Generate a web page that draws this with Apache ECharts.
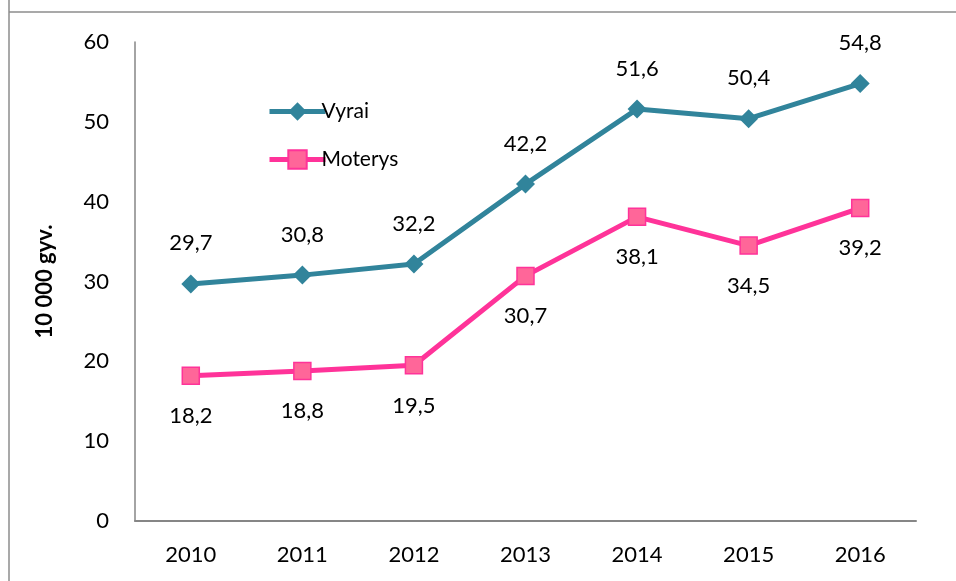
<!DOCTYPE html>
<html>
<head>
	<meta http-equiv="Content-Type" content="text/html;charset=utf-8">
	<title>Vyrai ir moterys</title>
	<script src="https://cdn.jsdelivr.net/npm/echarts@6/dist/echarts.min.js"></script>
	<style>
	  html, body{
		margin: 0;
		padding: 0;
		background: #fff;
	  }
	  #chart{
		width: 956px;
		height: 581px;
	  }
	</style>
</head>
<body>
<div id="chart"></div>

<script>
	var years = ['2010', '2011', '2012', '2013', '2014', '2015', '2016'];
	var vyrai = [29.7, 30.8, 32.2, 42.2, 51.6, 50.4, 54.8];
	var moterys = [18.2, 18.8, 19.5, 30.7, 38.1, 34.5, 39.2];
	var seriesNames = ['Vyrai', 'Moterys'];
	var yTicks = [0, 10, 20, 30, 40, 50, 60];

	var font = 'Lato, "Open Sans", sans-serif';

	// skaičius su kableliu
	function fmt(p){
		return String(p.value).replace('.', ',');
	}

	var option = {
		animation: false,
		textStyle: { fontFamily: font },
		grid: {
			left: 135,
			right: 40,
			top: 42,
			bottom: 60
		},
		legend: {
			orient: 'vertical',
			left: 262,
			top: 96,
			itemWidth: 56,
			itemHeight: 23,
			itemGap: 27,
			data: seriesNames,
			lineStyle: { width: 5 },
			textStyle: { fontSize: 21, color: '#000', fontFamily: font, padding: [0, 0, 0, -9] }
		},
		graphic: [
			{ type: 'line', shape: { x1: 9, y1: 0, x2: 9, y2: 581 }, style: { stroke: '#8c8c8c', lineWidth: 1.5 } },
			{ type: 'line', shape: { x1: 9, y1: 12, x2: 956, y2: 12 }, style: { stroke: '#8c8c8c', lineWidth: 1.5 } }
		],
		xAxis: {
			type: 'category',
			data: years,
			boundaryGap: true,
			axisLine: { lineStyle: { color: '#868686', width: 2 } },
			axisTick: { show: false },
			axisLabel: { color: '#000', fontSize: 22, margin: 23 }
		},
		yAxis: {
			type: 'value',
			min: yTicks[0],
			max: yTicks[yTicks.length - 1],
			interval: 10,
			name: '10 000 gyv.',
			nameLocation: 'middle',
			nameRotate: 90,
			nameGap: 79,
			nameTextStyle: { fontSize: 22, fontWeight: 'bold', color: '#000' },
			axisLine: { show: true, lineStyle: { color: '#868686', width: 1.5 } },
			axisTick: { show: false },
			splitLine: { show: false },
			axisLabel: { color: '#000', fontSize: 22, margin: 26 }
		},
		series: [
			{
				name: seriesNames[0],
				type: 'line',
				data: vyrai,
				symbol: 'diamond',
				symbolSize: 19,
				lineStyle: { color: '#31849B', width: 5 },
				itemStyle: { color: '#31849B' },
				label: {
					show: true,
					position: 'top',
					distance: 20,
					fontSize: 22,
					color: '#000',
					formatter: fmt
				}
			},
			{
				name: seriesNames[1],
				type: 'line',
				data: moterys,
				symbol: 'rect',
				symbolSize: 17,
				lineStyle: { color: '#FF3399', width: 5 },
				itemStyle: { color: '#FF6699', borderColor: '#FF3399', borderWidth: 1.5 },
				label: {
					show: true,
					position: 'bottom',
					distance: 20,
					fontSize: 22,
					color: '#000',
					formatter: fmt
				}
			}
		]
	};

	var myChart = echarts.init(document.getElementById('chart'));
	myChart.setOption(option);
</script>
</body>
</html>
